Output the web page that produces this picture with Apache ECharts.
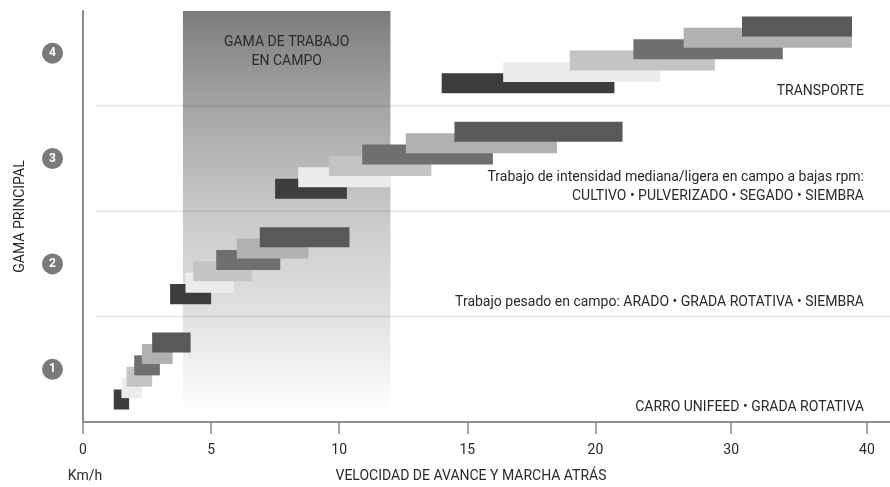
<!DOCTYPE html>
<html><head><meta charset="utf-8">
<script src="https://cdn.jsdelivr.net/npm/echarts@6/dist/echarts.min.js"></script>
<style>html,body{margin:0;padding:0;background:#fff}#chart{width:890px;height:487px}</style>
</head><body><div id="chart"></div>
<script>
// ---------------- data (km/h) ----------------
const rangeLabels = ['1', '2', '3', '4'];
const range1Start = [1.2, 1.5, 1.7, 2.0, 2.3, 2.7];
const range1End   = [1.8, 2.3, 2.7, 3.0, 3.5, 4.2];
const range2Start = [3.4, 4.0, 4.3, 5.2, 6.0, 6.9];
const range2End   = [5.0, 5.9, 6.6, 7.7, 8.8, 10.4];
const range3Start = [7.5, 8.4, 9.6, 10.9, 12.6, 14.5];
const range3End   = [10.3, 12.0, 13.6, 16.0, 18.5, 22.0];
const range4Start = [14.0, 16.4, 19.0, 22.8, 26.5, 30.8];
const range4End   = [21.4, 24.8, 28.8, 33.8, 38.9, 38.9];
const fieldRange = [3.9, 12.0];
const xTickValues = [0, 5, 10, 15, 20, 30, 40];
const rangeNotes = [
  'CARRO UNIFEED • GRADA ROTATIVA',
  'Trabajo pesado en campo: ARADO • GRADA ROTATIVA • SIEMBRA',
  'Trabajo de intensidad mediana/ligera en campo a bajas rpm:\nCULTIVO • PULVERIZADO • SEGADO • SIEMBRA',
  'TRANSPORTE'
];
const fieldLabel = 'GAMA DE TRABAJO\nEN CAMPO';
const xName = 'VELOCIDAD DE AVANCE Y MARCHA ATRÁS';
const xUnit = 'Km/h';
const yName = 'GAMA PRINCIPAL';

// ---------------- scale (axis compressed above 20 km/h) ----------------
const X_BREAK = 20, X_COMPRESS = 0.53, X_AXIS_MAX = 31.5, Y_MAX = 3.9;
const toAxis = v => v <= X_BREAK ? v : X_BREAK + (v - X_BREAK) * X_COMPRESS;
const fromAxis = d => d <= X_BREAK ? d : X_BREAK + (d - X_BREAK) / X_COMPRESS;

const gearColors = ['#3d3d3b', '#ececec', '#c4c4c4', '#6f6f6f', '#b1b1b1', '#595957'];
const BAR_BASE = 0.2135, BAR_STEP = 0.108, BAR_HALF = 0.095, FIELD_BOTTOM = 0.07;
const FONT = 'Roboto, "Noto Sans", sans-serif';
const TXT = '#2a2a2a';

const starts = [range1Start, range2Start, range3Start, range4Start];
const ends = [range1End, range2End, range3End, range4End];
const barData = [];
starts.forEach((arr, r) => arr.forEach((s, g) => barData.push([toAxis(s), toAxis(ends[r][g]), r, g])));

const chart = echarts.init(document.getElementById('chart'), null, {renderer: 'canvas'});
chart.setOption({
  animation: false,
  backgroundColor: '#fff',
  grid: {left: 83, right: 0, top: 11, bottom: 65, outerBoundsMode: 'none'},
  xAxis: {
    type: 'value', min: 0, max: X_AXIS_MAX,
    axisLine: {show: true, lineStyle: {color: '#8c8c8c', width: 2}},
    axisTick: {show: true, customValues: xTickValues.map(toAxis), length: 12, lineStyle: {color: '#8c8c8c', width: 1.5}},
    axisLabel: {customValues: xTickValues.map(toAxis), formatter: v => String(Math.round(fromAxis(v))),
      margin: 21, fontSize: 14, color: TXT, fontFamily: FONT},
    splitLine: {show: false}
  },
  yAxis: {
    type: 'value', min: 0, max: Y_MAX,
    axisLine: {show: true, lineStyle: {color: '#8c8c8c', width: 2}},
    axisTick: {show: false}, splitLine: {show: false},
    axisLabel: {
      customValues: rangeLabels.map((_, i) => i + 0.5),
      formatter: v => '{b|' + rangeLabels[Math.floor(v)] + '}',
      margin: 20,
      rich: {b: {backgroundColor: '#7a7a7a', borderRadius: 11, width: 21, height: 21, lineHeight: 21,
        align: 'center', color: '#fff', fontWeight: 'bold', fontSize: 12, fontFamily: FONT}}
    },
    name: yName, nameLocation: 'middle', nameGap: 56, nameRotate: 90,
    nameTextStyle: {fontSize: 14, color: TXT, fontFamily: FONT}
  },
  graphic: [
    {type: 'text', x: 85, y: 476, style: {text: xUnit, textAlign: 'center', textVerticalAlign: 'middle', font: '14px ' + FONT, fill: TXT}},
    {type: 'text', x: 471, y: 476, style: {text: xName, textAlign: 'center', textVerticalAlign: 'middle', font: '14px ' + FONT, fill: TXT}}
  ],
  series: [
    { // field working range
      type: 'custom', silent: true, z: 1,
      data: [[toAxis(fieldRange[0]), toAxis(fieldRange[1])]],
      renderItem: (params, api) => {
        const p0 = api.coord([api.value(0), Y_MAX]);
        const p1 = api.coord([api.value(1), FIELD_BOTTOM]);
        return {type: 'group', children: [
          {type: 'rect', shape: {x: p0[0], y: p0[1], width: p1[0] - p0[0], height: p1[1] - p0[1]},
            style: {fill: new echarts.graphic.LinearGradient(0, 0, 0, 1, [
              {offset: 0, color: '#7c7c7c'}, {offset: 0.23, color: '#a4a4a4'}, {offset: 0.5, color: '#c9c9c9'},
              {offset: 0.76, color: '#e2e2e2'}, {offset: 1, color: '#ffffff'}])}},
          {type: 'text', x: (p0[0] + p1[0]) / 2, y: p0[1] + 22,
            style: {text: fieldLabel, textAlign: 'center', textVerticalAlign: 'top', font: '14px ' + FONT,
              lineHeight: 19, fill: TXT}}
        ]};
      }
    },
    { // band separators
      type: 'custom', silent: true, z: 2,
      data: [1, 2, 3],
      renderItem: (params, api) => {
        const v = api.value(0);
        const a = api.coord([toAxis(0.5), v]);
        const b = api.coord([X_AXIS_MAX, v]);
        return {type: 'line', shape: {x1: a[0], y1: a[1], x2: b[0], y2: b[1]},
          style: {stroke: 'rgba(0,0,0,0.08)', lineWidth: 2}};
      }
    },
    { // gear bars
      type: 'custom', silent: true, z: 3,
      data: barData,
      renderItem: (params, api) => {
        const r = api.value(2), g = api.value(3);
        const yc = r + BAR_BASE + g * BAR_STEP;
        const p0 = api.coord([api.value(0), yc + BAR_HALF]);
        const p1 = api.coord([api.value(1), yc - BAR_HALF]);
        return {type: 'rect', shape: {x: p0[0], y: p0[1], width: p1[0] - p0[0], height: p1[1] - p0[1]},
          style: {fill: gearColors[g]}};
      }
    },
    { // notes per range
      type: 'custom', silent: true, z: 4,
      data: rangeNotes.map((_, i) => i),
      renderItem: (params, api) => {
        const r = api.value(0);
        const p = api.coord([toAxis(40), r]);
        return {type: 'text', x: p[0] - 3, y: p[1] - 5,
          style: {text: rangeNotes[r], textAlign: 'right', textVerticalAlign: 'bottom', font: '14px ' + FONT,
            lineHeight: 19, fill: TXT}};
      }
    }
  ]
});
</script></body></html>
